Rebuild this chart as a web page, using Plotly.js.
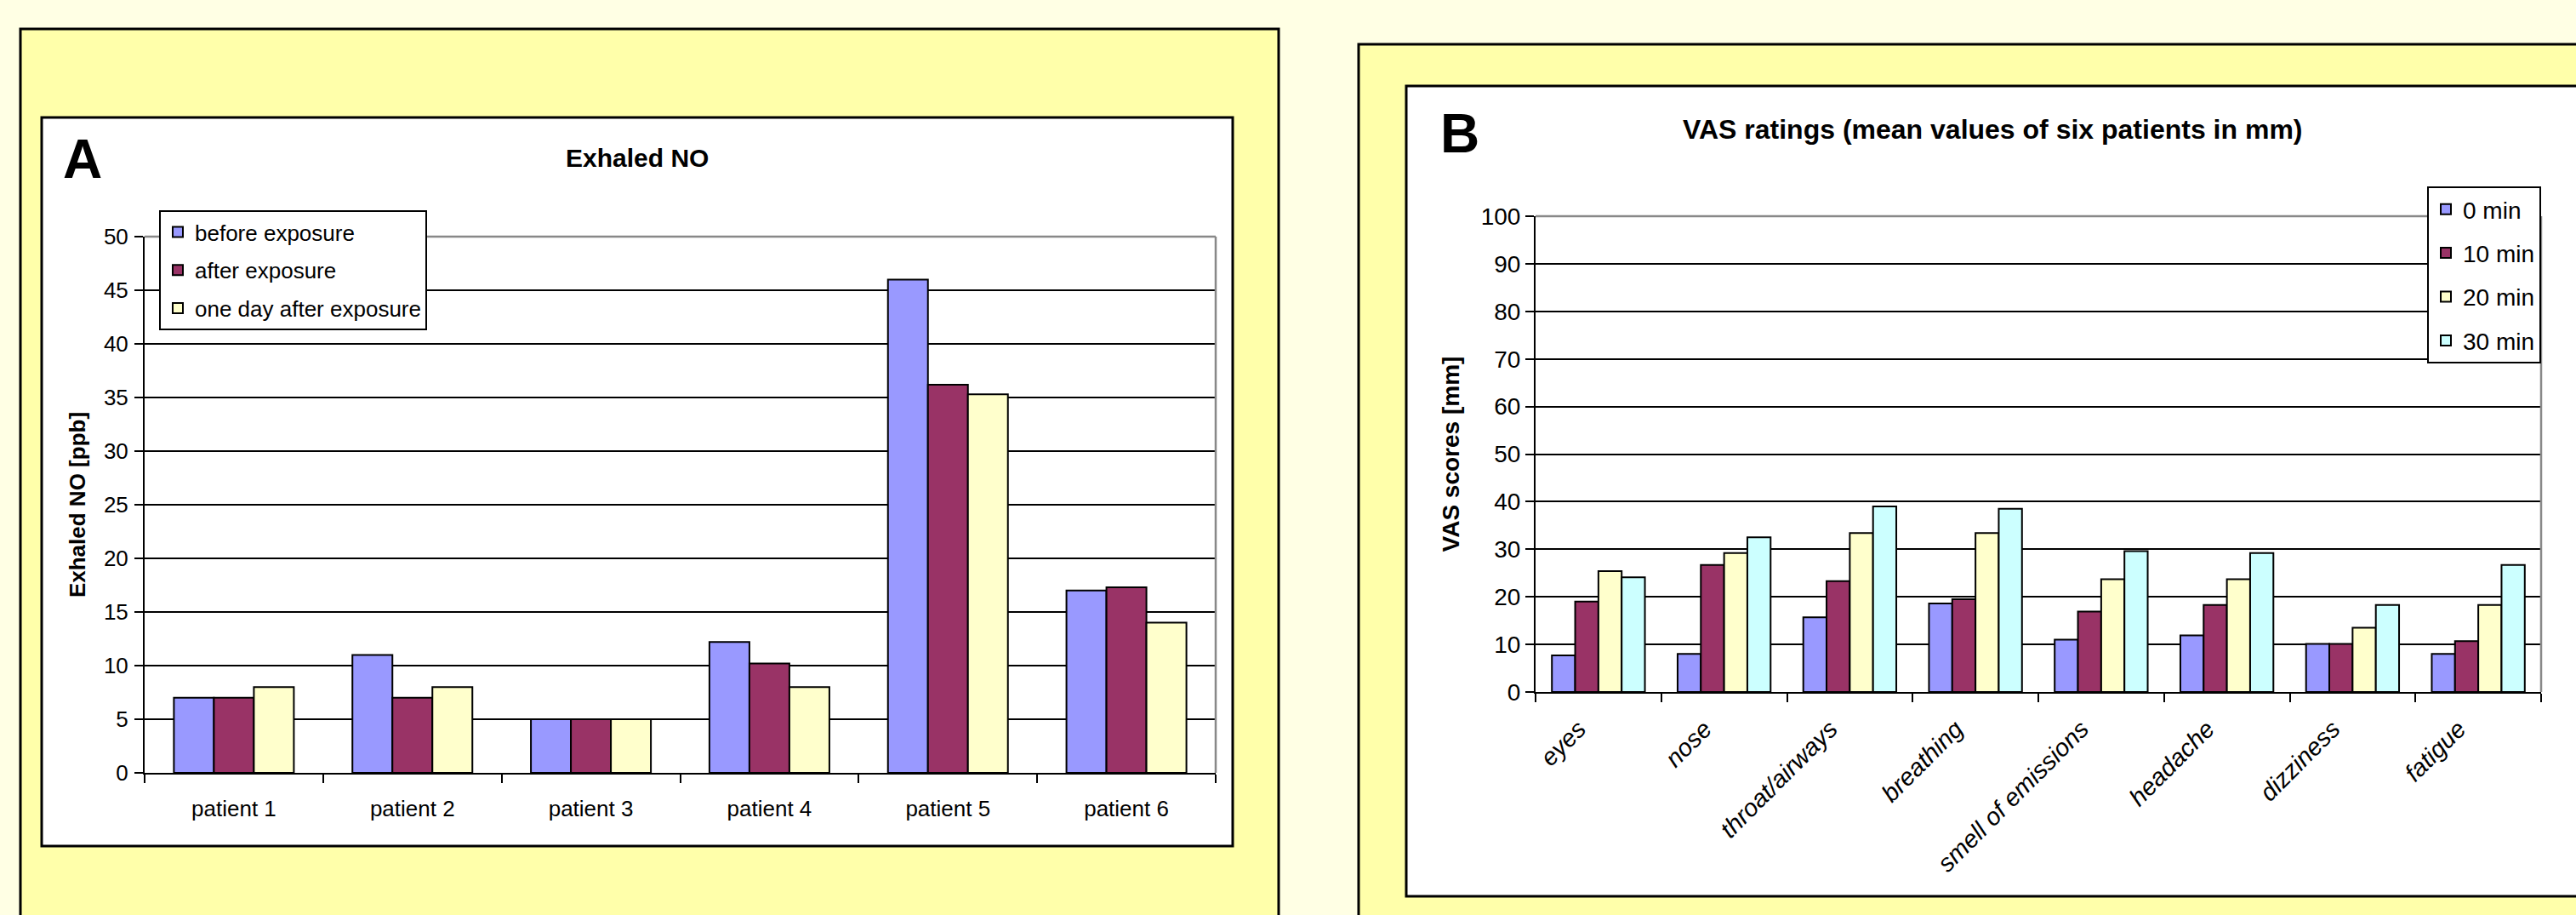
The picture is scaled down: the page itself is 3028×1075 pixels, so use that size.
<!DOCTYPE html>
<html>
<head>
<meta charset="utf-8">
<script src="https://cdn.plot.ly/plotly-3.0.1.min.js"></script>
<style>
html, body { margin: 0; padding: 0; background: #FFFFE4; }
#chart { width: 3028px; height: 1075px; }
</style>
</head>
<body>
<div id="chart"></div>
<script>
// ---- Panel A data: Exhaled NO [ppb] ----
const patients = ['patient 1', 'patient 2', 'patient 3', 'patient 4', 'patient 5', 'patient 6'];
const beforeExposure = [7, 11, 5, 12.2, 46, 17];
const afterExposure = [7, 7, 5, 10.2, 36.2, 17.3];
const oneDayAfterExposure = [8, 8, 5, 8, 35.3, 14];
const seriesNamesA = ['before exposure', 'after exposure', 'one day after exposure'];

// ---- Panel B data: VAS ratings (mean of six patients, mm) ----
const symptoms = ['eyes', 'nose', 'throat/airways', 'breathing', 'smell of emissions', 'headache', 'dizziness', 'fatigue'];
const min0 = [7.7, 8.0, 15.7, 18.6, 11.0, 11.9, 10.1, 8.0];
const min10 = [19.0, 26.7, 23.3, 19.5, 16.9, 18.3, 10.1, 10.7];
const min20 = [25.4, 29.2, 33.4, 33.4, 23.7, 23.7, 13.5, 18.3];
const min30 = [24.1, 32.5, 39.0, 38.5, 29.6, 29.2, 18.3, 26.7];
const seriesNamesB = ['0 min', '10 min', '20 min', '30 min'];

const W = 3028, H = 1075;
const px = v => v / W;
const py = v => 1 - v / H;
const FONT = 'Liberation Sans, Arial, sans-serif';

const colorsA = ['#9999FF', '#993366', '#FFFFCC'];
const colorsB = ['#9999FF', '#993366', '#FFFFCC', '#CCFFFF'];

const dataA = [beforeExposure, afterExposure, oneDayAfterExposure];
const dataB = [min0, min10, min20, min30];

const groupA = 0.672, bwA = groupA / 3;
const groupB = 0.74, bwB = groupB / 4;

const traces = [];
dataA.forEach((vals, i) => {
  traces.push({
    type: 'bar', x: patients, y: vals, name: seriesNamesA[i],
    xaxis: 'x', yaxis: 'y', legend: 'legend', legendgroup: 'a' + i,
    width: bwA, offset: -groupA / 2 + i * bwA,
    marker: { color: colorsA[i], line: { color: '#000', width: 2 } },
    hoverinfo: 'skip'
  });
});
dataB.forEach((vals, i) => {
  traces.push({
    type: 'bar', x: symptoms, y: vals, name: seriesNamesB[i],
    xaxis: 'x2', yaxis: 'y2', legend: 'legend2', legendgroup: 'b' + i,
    width: bwB, offset: -groupB / 2 + i * bwB,
    marker: { color: colorsB[i], line: { color: '#000', width: 2 } },
    hoverinfo: 'skip'
  });
});

const commonX = {
  type: 'category', showline: true, linecolor: '#000', linewidth: 2,
  ticks: 'outside', ticklen: 10, tickwidth: 2, tickcolor: '#000',
  tickson: 'boundaries', showgrid: false, zeroline: false, fixedrange: true
};
const commonY = {
  showline: true, linecolor: '#000', linewidth: 2,
  ticks: 'outside', ticklen: 10, tickwidth: 2, tickcolor: '#000',
  showgrid: true, gridcolor: '#000', gridwidth: 2, zeroline: false,
  fixedrange: true, automargin: true
};

const layout = {
  width: W, height: H,
  margin: { l: 0, r: 0, t: 0, b: 0, pad: 0, autoexpand: false },
  paper_bgcolor: '#FFFFE4',
  plot_bgcolor: 'rgba(0,0,0,0)',
  font: { family: FONT, color: '#000' },
  showlegend: true,
  barmode: 'group',
  xaxis: Object.assign({}, commonX, {
    domain: [px(170), px(1429)], anchor: 'y',
    ticklabelstandoff: 18,
    tickfont: { size: 26, family: FONT, color: '#000' }
  }),
  yaxis: Object.assign({}, commonY, {
    domain: [py(908), py(278)], anchor: 'x',
    range: [0, 50], tick0: 0, dtick: 5, ticklabelstandoff: 2,
    tickfont: { size: 26, family: FONT, color: '#000' },
    title: { text: 'Exhaled NO [ppb]', font: { size: 26, family: FONT, weight: 'bold', color: '#000' }, standoff: 14 }
  }),
  xaxis2: Object.assign({}, commonX, {
    domain: [px(1805), px(2987)], anchor: 'y2',
    tickangle: -45, ticklabelstandoff: 13, ticklabelshift: -23,
    tickfont: { size: 29, family: FONT, style: 'italic', color: '#000' }
  }),
  yaxis2: Object.assign({}, commonY, {
    domain: [py(813), py(254)], anchor: 'x2',
    range: [0, 100], tick0: 0, dtick: 10, ticklabelstandoff: 0,
    tickfont: { size: 28, family: FONT, color: '#000' },
    title: { text: 'VAS scores [mm]', font: { size: 28, family: FONT, weight: 'bold', color: '#000' }, standoff: 17 }
  }),
  legend: {
    x: px(187), y: py(247), xanchor: 'left', yanchor: 'top',
    bgcolor: '#FFFFFF', bordercolor: '#000', borderwidth: 2,
    font: { size: 26, family: FONT, color: '#000' },
    traceorder: 'grouped', tracegroupgap: 8, itemclick: false, itemdoubleclick: false
  },
  legend2: {
    x: px(2853), y: py(219), xanchor: 'left', yanchor: 'top',
    bgcolor: '#FFFFFF', bordercolor: '#000', borderwidth: 2,
    font: { size: 28, family: FONT, color: '#000' },
    traceorder: 'grouped', tracegroupgap: 12, itemclick: false, itemdoubleclick: false
  },
  shapes: [
    { type: 'rect', xref: 'paper', yref: 'paper', layer: 'below',
      x0: px(24), x1: px(1503), y0: py(34), y1: py(1120),
      fillcolor: '#FFFFAA', line: { color: '#000', width: 3 } },
    { type: 'rect', xref: 'paper', yref: 'paper', layer: 'below',
      x0: px(49), x1: px(1449), y0: py(138), y1: py(994),
      fillcolor: '#FFFFFF', line: { color: '#000', width: 3 } },
    { type: 'rect', xref: 'paper', yref: 'paper', layer: 'below',
      x0: px(1597), x1: px(3100), y0: py(52), y1: py(1120),
      fillcolor: '#FFFFAA', line: { color: '#000', width: 3 } },
    { type: 'rect', xref: 'paper', yref: 'paper', layer: 'below',
      x0: px(1653), x1: px(3100), y0: py(101), y1: py(1053),
      fillcolor: '#FFFFFF', line: { color: '#000', width: 3 } },
    { type: 'line', xref: 'x domain', yref: 'y domain', layer: 'above',
      x0: 0, x1: 1, y0: 1, y1: 1, line: { color: '#888', width: 2.5 } },
    { type: 'line', xref: 'x domain', yref: 'y domain', layer: 'above',
      x0: 1, x1: 1, y0: 0, y1: 1, line: { color: '#888', width: 2.5 } },
    { type: 'line', xref: 'x2 domain', yref: 'y2 domain', layer: 'above',
      x0: 0, x1: 1, y0: 1, y1: 1, line: { color: '#888', width: 2.5 } },
    { type: 'line', xref: 'x2 domain', yref: 'y2 domain', layer: 'above',
      x0: 1, x1: 1, y0: 0, y1: 1, line: { color: '#888', width: 2.5 } }
  ],
  annotations: [
    { text: 'A', xref: 'paper', yref: 'paper', x: px(97), y: py(187),
      xanchor: 'center', yanchor: 'middle', showarrow: false,
      font: { size: 64, family: FONT, weight: 'bold', color: '#000' } },
    { text: 'Exhaled NO', xref: 'paper', yref: 'paper', x: px(749), y: py(185),
      xanchor: 'center', yanchor: 'middle', showarrow: false,
      font: { size: 30, family: FONT, weight: 'bold', color: '#000' } },
    { text: 'B', xref: 'paper', yref: 'paper', x: px(1716), y: py(157),
      xanchor: 'center', yanchor: 'middle', showarrow: false,
      font: { size: 64, family: FONT, weight: 'bold', color: '#000' } },
    { text: 'VAS ratings (mean values of six patients in mm)', xref: 'paper', yref: 'paper',
      x: px(2342), y: py(152), xanchor: 'center', yanchor: 'middle', showarrow: false,
      font: { size: 32, family: FONT, weight: 'bold', color: '#000' } }
  ]
};

Plotly.newPlot('chart', traces, layout, { displayModeBar: false, responsive: false });
</script>
</body>
</html>
